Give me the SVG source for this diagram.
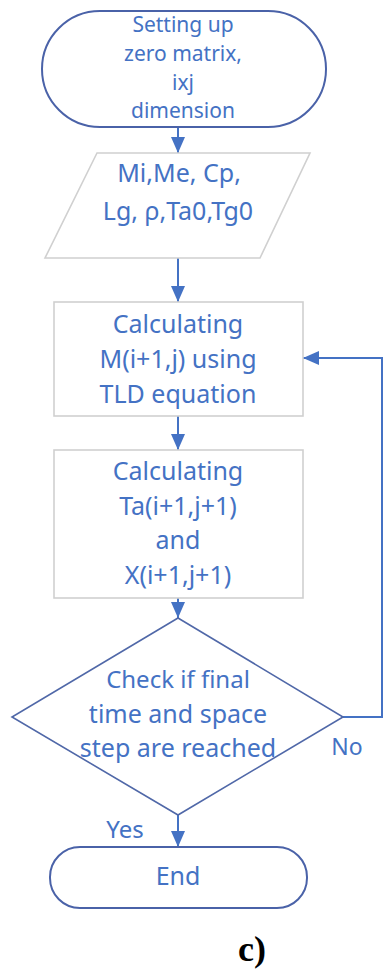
<svg xmlns="http://www.w3.org/2000/svg" width="385" height="972" viewBox="0 0 385 972">
<defs>
<style>
.t{font-family:"Noto Sans","Open Sans",sans-serif;fill:#4472c4;text-anchor:middle}
.term{fill:#fff;stroke:#4a62a8;stroke-width:2}
.box{fill:#fff;stroke:#d0d0d0;stroke-width:1.6}
.dia{fill:#fff;stroke:#5068a8;stroke-width:1.6}
.c{fill:none;stroke:#4472c4;stroke-width:2}
</style>
<marker id="ah" markerUnits="userSpaceOnUse" markerWidth="16" markerHeight="14" refX="16" refY="7" orient="auto">
<path d="M0,0 L16,7 L0,14 Z" fill="#4472c4"/>
</marker>
</defs>
<rect width="385" height="972" fill="#fff"/>
<g id="connectors">
<line class="c" x1="178" y1="127" x2="178" y2="153" marker-end="url(#ah)"/>
<line class="c" x1="178" y1="258" x2="178" y2="302" marker-end="url(#ah)"/>
<line class="c" x1="178" y1="416" x2="178" y2="450" marker-end="url(#ah)"/>
<line class="c" x1="178" y1="598" x2="178" y2="618" marker-end="url(#ah)"/>
<line class="c" x1="178" y1="815" x2="178" y2="847" marker-end="url(#ah)"/>
<polyline class="c" points="343,717 382,717 382,358 303,358" marker-end="url(#ah)"/>
</g>
<g id="start">
<rect class="term" x="42" y="11" width="284" height="116" rx="58" ry="58"/>
<text class="t" x="183" y="32" font-size="21">Setting up</text>
<text class="t" x="183" y="61" font-size="21">zero matrix,</text>
<text class="t" x="183" y="90" font-size="21">ixj</text>
<text class="t" x="183" y="118" font-size="21">dimension</text>
</g>
<g id="input">
<polygon class="box" points="97,153 310,153 260,258 45,258"/>
<text class="t" x="179" y="182" font-size="25">Mi,Me, Cp,</text>
<text class="t" x="178" y="220" font-size="25">Lg, ρ,Ta0,Tg0</text>
</g>
<g id="calcM">
<rect class="box" x="54" y="302" width="249" height="114"/>
<text class="t" x="178" y="333" font-size="25">Calculating</text>
<text class="t" x="178" y="368" font-size="25">M(i+1,j) using</text>
<text class="t" x="178" y="403" font-size="25">TLD equation</text>
</g>
<g id="calcTa">
<rect class="box" x="54" y="450" width="249" height="148"/>
<text class="t" x="178" y="480" font-size="25">Calculating</text>
<text class="t" x="178" y="515" font-size="25">Ta(i+1,j+1)</text>
<text class="t" x="178" y="549" font-size="25">and</text>
<text class="t" x="178" y="584" font-size="25">X(i+1,j+1)</text>
</g>
<g id="check">
<polygon class="dia" points="178,618 343,717 178,815 12,717"/>
<text class="t" x="178" y="688" font-size="24">Check if final</text>
<text class="t" x="178" y="723" font-size="25">time and space</text>
<text class="t" x="178" y="757" font-size="25">step are reached</text>
</g>
<g id="end">
<rect class="term" x="50" y="847" width="257" height="61" rx="30" ry="30"/>
<text class="t" x="178" y="885" font-size="25">End</text>
</g>
<g id="labels">
<text class="t" x="347" y="755" font-size="23">No</text>
<text class="t" x="125" y="838" font-size="24">Yes</text>
<text x="238" y="961" font-family="Liberation Serif,serif" font-weight="bold" font-size="36" fill="#000">c)</text>
</g>
</svg>
